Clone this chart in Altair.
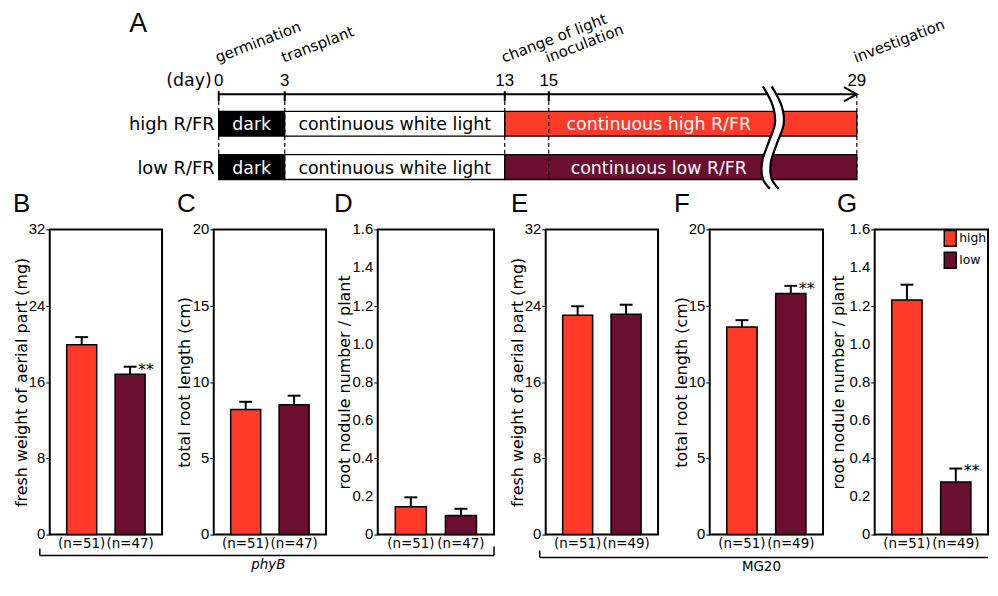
import altair as alt
import pandas as pd

RED = "#FF3A28"
DARK = "#6C0E30"
FONT = "DejaVu Sans"
NUMFONT = "Liberation Sans"
LETTERFONT = "Liberation Sans"

# ---------------- panel A (timeline) data ----------------
ROWS = ["high R/FR", "low R/FR"]
ROW_LANE = [1.0, 2.0]
SEG_START = [0, 3, 13]
SEG_END = [3, 13, 29]
SEG_LABEL_DAY = [1.5, 8, 20]
SEG_TEXT = {
    "high R/FR": ["dark", "continuous white light", "continuous high R/FR"],
    "low R/FR": ["dark", "continuous white light", "continuous low R/FR"],
}
SEG_FILL = {
    "high R/FR": ["#000000", "#FFFFFF", RED],
    "low R/FR": ["#000000", "#FFFFFF", DARK],
}
SEG_TEXT_COLOR = ["#FFFFFF", "#000000", "#FFFFFF"]
DAY_TICKS = [0, 3, 13, 15, 29]
EVENT_DAYS = [0, 3, 13, 15, 29]
EVENT_NAMES = ["germination", "transplant", "change of light", "inoculation", "investigation"]
BREAK_LANE = [0.14, 0.6, 1.0, 1.47, 1.9, 2.27, 2.5]
BREAK_DAY = [24.93, 25.39, 25.48, 25.16, 24.89, 24.93, 25.25]
BREAK_HALF = 0.2

# ---------------- panels B-G data ----------------
CONDS = ["high", "low"]
PANEL_LETTERS = ["B", "C", "D", "E", "F", "G"]
Y_TITLES = [
    "fresh weight of aerial part (mg)",
    "total root length (cm)",
    "root nodule number / plant",
    "fresh weight of aerial part (mg)",
    "total root length (cm)",
    "root nodule number / plant",
]
Y_MAX = [32, 20, 1.6, 32, 20, 1.6]
Y_TICKS = [
    [0, 4, 8, 12, 16, 20, 24, 28, 32],
    [0, 2.5, 5, 7.5, 10, 12.5, 15, 17.5, 20],
    [0, 0.2, 0.4, 0.6, 0.8, 1.0, 1.2, 1.4, 1.6],
    [0, 4, 8, 12, 16, 20, 24, 28, 32],
    [0, 2.5, 5, 7.5, 10, 12.5, 15, 17.5, 20],
    [0, 0.2, 0.4, 0.6, 0.8, 1.0, 1.2, 1.4, 1.6],
]
Y_LABELS = [
    [0, 8, 16, 24, 32],
    [0, 5, 10, 15, 20],
    [0, 0.2, 0.4, 0.6, 0.8, 1.0, 1.2, 1.4, 1.6],
    [0, 8, 16, 24, 32],
    [0, 5, 10, 15, 20],
    [0, 0.2, 0.4, 0.6, 0.8, 1.0, 1.2, 1.4, 1.6],
]
N_LABELS = [
    ["(n=51)", "(n=47)"],
    ["(n=51)", "(n=47)"],
    ["(n=51)", "(n=47)"],
    ["(n=51)", "(n=49)"],
    ["(n=51)", "(n=49)"],
    ["(n=51)", "(n=49)"],
]
MEANS = [
    [19.9, 16.8],
    [8.2, 8.5],
    [0.145, 0.10],
    [23.0, 23.1],
    [13.6, 15.8],
    [1.23, 0.276],
]
SES = [
    [0.8, 0.8],
    [0.5, 0.6],
    [0.05, 0.035],
    [0.95, 1.0],
    [0.45, 0.5],
    [0.08, 0.07],
]
STARS = [["", "**"], ["", ""], ["", ""], ["", ""], ["", "**"], ["", "**"]]
GROUP_TITLES = [None, "phyB", None, None, "MG20", None]

# ---------------- layout / style ----------------
PX_PER_DAY = 22.138
A_WIDTH = 940
A_HEIGHT = 131
DAY_MIN = -170 / PX_PER_DAY
DAY_MAX = DAY_MIN + A_WIDTH / PX_PER_DAY
LANE_MAX = 3.0
LANE_AXIS = 0.32
LANE_EVENT = -0.41
ROW_HALF = 0.286
PANEL_W = [113, 113, 117, 113, 114, 114]
PANEL_H = 307
LETTER_DX = [-37, -37, -44, -35, -36, -38]
TITLE_PAD = [16, 17, 21, 16, 16, 24]


def X(field):
    return alt.X(f"{field}:Q", scale=alt.Scale(domain=[DAY_MIN, DAY_MAX], nice=False, zero=False), axis=None)


def Y(field):
    return alt.Y(f"{field}:Q", scale=alt.Scale(domain=[0, LANE_MAX], reverse=True, nice=False, zero=False), axis=None)


rect_rows = []
for r, lane in zip(ROWS, ROW_LANE):
    for j in range(len(SEG_START)):
        rect_rows.append(dict(s=SEG_START[j], e=SEG_END[j], y1=lane - ROW_HALF, y2=lane + ROW_HALF,
                              lane=lane, ld=SEG_LABEL_DAY[j], text=SEG_TEXT[r][j],
                              fill=SEG_FILL[r][j], tcolor=SEG_TEXT_COLOR[j]))
rect_df = pd.DataFrame(rect_rows)

rects = alt.Chart(rect_df).mark_rect(stroke="black", strokeWidth=1.3).encode(
    x=X("s"), x2=alt.X2("e"), y=Y("y1"), y2=alt.Y2("y2"), fill=alt.Fill("fill:N", scale=None))

seg_text = alt.Chart(rect_df).mark_text(font=FONT, fontSize=17.5, baseline="middle", dy=1.5).encode(
    x=X("ld"), y=Y("lane"), text="text:N", color=alt.Color("tcolor:N", scale=None))

axis_df = pd.DataFrame({"a": [DAY_TICKS[0]], "b": [DAY_TICKS[-1]], "y": [LANE_AXIS]})
axis_line = alt.Chart(axis_df).mark_rule(color="black", strokeWidth=2).encode(
    x=X("a"), x2=alt.X2("b"), y=Y("y"))

tick_df = pd.DataFrame({"day": DAY_TICKS[:-1], "y1": LANE_AXIS - 0.07, "y2": LANE_AXIS + 0.16})
ticks = alt.Chart(tick_df).mark_rule(color="black", strokeWidth=2).encode(
    x=X("day"), y=Y("y1"), y2=alt.Y2("y2"))

dash_df = pd.DataFrame({"day": DAY_TICKS, "y1": LANE_AXIS, "y2": ROW_LANE[-1] + ROW_HALF})
dashed = alt.Chart(dash_df).mark_rule(color="black", strokeWidth=1.2, strokeDash=[4, 3]).encode(
    x=X("day"), y=Y("y1"), y2=alt.Y2("y2"))

lab_df = pd.DataFrame({"day": DAY_TICKS, "label": [str(d) for d in DAY_TICKS], "y": LANE_AXIS})
day_labels = alt.Chart(lab_df).mark_text(font=NUMFONT, fontSize=17, dy=-8, baseline="alphabetic",
                                          color="black").encode(x=X("day"), y=Y("y"), text="label:N")

unit_df = pd.DataFrame({"day": [0], "y": [LANE_AXIS], "t": ["(day)"]})
day_unit = alt.Chart(unit_df).mark_text(font=FONT, fontSize=17.5, dy=-8, dx=-7, align="right",
                                        baseline="alphabetic", color="black").encode(
    x=X("day"), y=Y("y"), text="t:N")

row_df = pd.DataFrame({"row": ROWS, "lane": ROW_LANE, "day": 0})
row_labels = alt.Chart(row_df).mark_text(font=FONT, fontSize=18, align="right", dx=-4, dy=1.5,
                                         baseline="middle", color="black").encode(
    x=X("day"), y=Y("lane"), text="row:N")

ev_df = pd.DataFrame({"day": EVENT_DAYS, "name": EVENT_NAMES, "lane": LANE_EVENT})
events = alt.Chart(ev_df).mark_text(font=FONT, fontSize=15, angle=339, align="left", dx=-1,
                                    baseline="alphabetic", color="black").encode(
    x=X("day"), y=Y("lane"), text="name:N")

arrow_df = pd.DataFrame({"day": [DAY_TICKS[-1]], "y": [LANE_AXIS]})
arrow = alt.Chart(arrow_df).mark_point(shape="M-1,-0.55L0,0L-1,0.55", size=676, filled=False,
                                       strokeWidth=2, color="black", opacity=1).encode(
    x=X("day"), y=Y("y"))

brk_df = pd.DataFrame({"lane": BREAK_LANE,
                       "l": [d - BREAK_HALF for d in BREAK_DAY],
                       "r": [d + BREAK_HALF for d in BREAK_DAY]})
brk_area = alt.Chart(brk_df).mark_area(orient="horizontal", interpolate="catmull-rom", color="white",
                                       opacity=1).encode(y=Y("lane"), x=X("l"), x2=alt.X2("r"))
line_rows = []
for cid, side in enumerate([-BREAK_HALF, BREAK_HALF]):
    for ln, d in zip(BREAK_LANE, BREAK_DAY):
        line_rows.append(dict(curve=cid, lane=ln, x=d + side))
brk_lines = alt.Chart(pd.DataFrame(line_rows)).mark_line(interpolate="catmull-rom", strokeWidth=2.2,
                                                         color="black").encode(
    x=X("x"), y=Y("lane"), detail="curve:N", order="lane:Q")

letterA = alt.Chart(pd.DataFrame({"t": ["A"]})).mark_text(font=LETTERFONT, fontSize=27, align="left",
                                                           baseline="alphabetic", color="black").encode(
    x=alt.value(80), y=alt.value(-49), text="t:N")

# invisible pin for the top-left corner of the drawing
anchor = alt.Chart(pd.DataFrame({"t": [0]})).mark_point(filled=True, size=1, color="white", opacity=1).encode(
    x=alt.value(-41.4), y=alt.value(-69.4))

chartA = alt.layer(rects, dashed, seg_text, axis_line, ticks, day_labels, day_unit, row_labels, events,
                   arrow, brk_area, brk_lines, letterA, anchor).properties(
    width=A_WIDTH, height=A_HEIGHT, view=alt.ViewBackground(strokeOpacity=0))


# ---------------- panels ----------------
def fmt_label(i, v):
    if Y_MAX[i] == 1.6:
        return "0" if v == 0 else f"{v:.1f}"
    return str(int(v))


def make_panel(i):
    df = pd.DataFrame({
        "cond": CONDS,
        "nlab": N_LABELS[i],
        "mean": MEANS[i],
        "top": [m + s for m, s in zip(MEANS[i], SES[i])],
        "star": STARS[i],
    })
    base = alt.Chart(df).encode(
        x=alt.X("nlab:N", sort=N_LABELS[i], scale=alt.Scale(paddingInner=0.38, paddingOuter=0.35),
                axis=alt.Axis(labelAngle=0, ticks=False, domain=False, labelFont=FONT, labelFontSize=13.5,
                              labelColor="black", labelPadding=2, title=None)))
    yscale = alt.Scale(domain=[0, Y_MAX[i]], nice=False)
    yaxis = alt.Axis(title=Y_TITLES[i], values=Y_TICKS[i], labels=False, tickSize=4,
                     tickColor="black", tickWidth=1, domain=False, grid=False,
                     titleFont=FONT, titleFontSize=16, titleFontWeight="normal",
                     titlePadding=TITLE_PAD[i], titleColor="black")
    if i == 5:
        legend = alt.Legend(orient="none", legendX=67, legendY=0, title=None,
                            symbolType="M-0.75,-1H0.75V1H-0.75Z", symbolSize=256,
                            symbolStrokeColor="black", symbolStrokeWidth=1.5, symbolOpacity=1,
                            labelFont=FONT, labelFontSize=12.5, labelOffset=0, labelColor="black",
                            rowPadding=0, padding=0)
    else:
        legend = None
    bars = base.mark_bar(stroke="black", strokeWidth=1.5, opacity=1).encode(
        y=alt.Y("mean:Q", scale=yscale, axis=yaxis),
        color=alt.Color("cond:N", scale=alt.Scale(domain=CONDS, range=[RED, DARK]), legend=legend))
    err = base.mark_rule(color="black", strokeWidth=2).encode(y="mean:Q", y2="top:Q")
    cap = base.mark_tick(color="black", thickness=2, size=13, opacity=1).encode(y="top:Q")
    stars = base.mark_text(font=FONT, fontSize=16, align="left", baseline="middle", dx=8, dy=3,
                           color="black").encode(y="top:Q", text="star:N")
    ylab_df = pd.DataFrame({"v": Y_LABELS[i], "t": [fmt_label(i, v) for v in Y_LABELS[i]]})
    ylabels = alt.Chart(ylab_df).mark_text(font=NUMFONT, fontSize=15, align="right", baseline="middle",
                                           color="black").encode(
        x=alt.value(-4.5), y=alt.Y("v:Q", scale=yscale), text="t:N")
    letter = alt.Chart(pd.DataFrame({"t": [PANEL_LETTERS[i]]})).mark_text(
        font=LETTERFONT, fontSize=26, align="left", baseline="alphabetic", color="black").encode(
        x=alt.value(LETTER_DX[i]), y=alt.value(-17), text="t:N")
    layers = [bars, err, cap, stars, ylabels, letter]
    dummy = pd.DataFrame({"t": [0]})
    h = PANEL_H
    gt = GROUP_TITLES[i]
    if gt is not None:
        layers.append(alt.Chart(pd.DataFrame({"t": [gt]})).mark_text(
            font=FONT, fontSize=13.5, fontStyle="italic" if gt == "phyB" else "normal",
            align="center", baseline="alphabetic", color="black").encode(
            x=alt.value(55 if gt == "phyB" else 52), y=alt.value(h + 35 if gt == "phyB" else h + 37),
            text="t:N"))
    if i == 0:
        layers += [
            alt.Chart(dummy).mark_rule(color="black", strokeWidth=1.5).encode(
                x=alt.value(-10), x2=alt.value(447), y=alt.value(h + 21)),
            alt.Chart(dummy).mark_rule(color="black", strokeWidth=1.5).encode(
                x=alt.value(-10), y=alt.value(h + 14), y2=alt.value(h + 21)),
            alt.Chart(dummy).mark_rule(color="black", strokeWidth=1.5).encode(
                x=alt.value(447), y=alt.value(h + 12), y2=alt.value(h + 21)),
        ]
    if i == 3:
        layers += [
            alt.Chart(dummy).mark_rule(color="black", strokeWidth=1.5).encode(
                x=alt.value(-6), x2=alt.value(445), y=alt.value(h + 23)),
            alt.Chart(dummy).mark_rule(color="black", strokeWidth=1.5).encode(
                x=alt.value(-6), y=alt.value(h + 16), y2=alt.value(h + 23)),
        ]
    return alt.layer(*layers).properties(width=PANEL_W[i], height=PANEL_H)


panels = [make_panel(i) for i in range(6)]
bottom = alt.hconcat(*panels, spacing=52, bounds="flush").resolve_scale(
    x="independent", y="independent", color="independent").resolve_legend(color="independent")

chart = alt.vconcat(chartA, bottom, spacing=19, bounds="flush").resolve_scale(
    x="independent", y="independent", color="independent").properties(padding=0).configure_view(
    stroke="black", strokeWidth=2)

chart.save("out.html", embed_options={"renderer": "svg", "actions": False})
